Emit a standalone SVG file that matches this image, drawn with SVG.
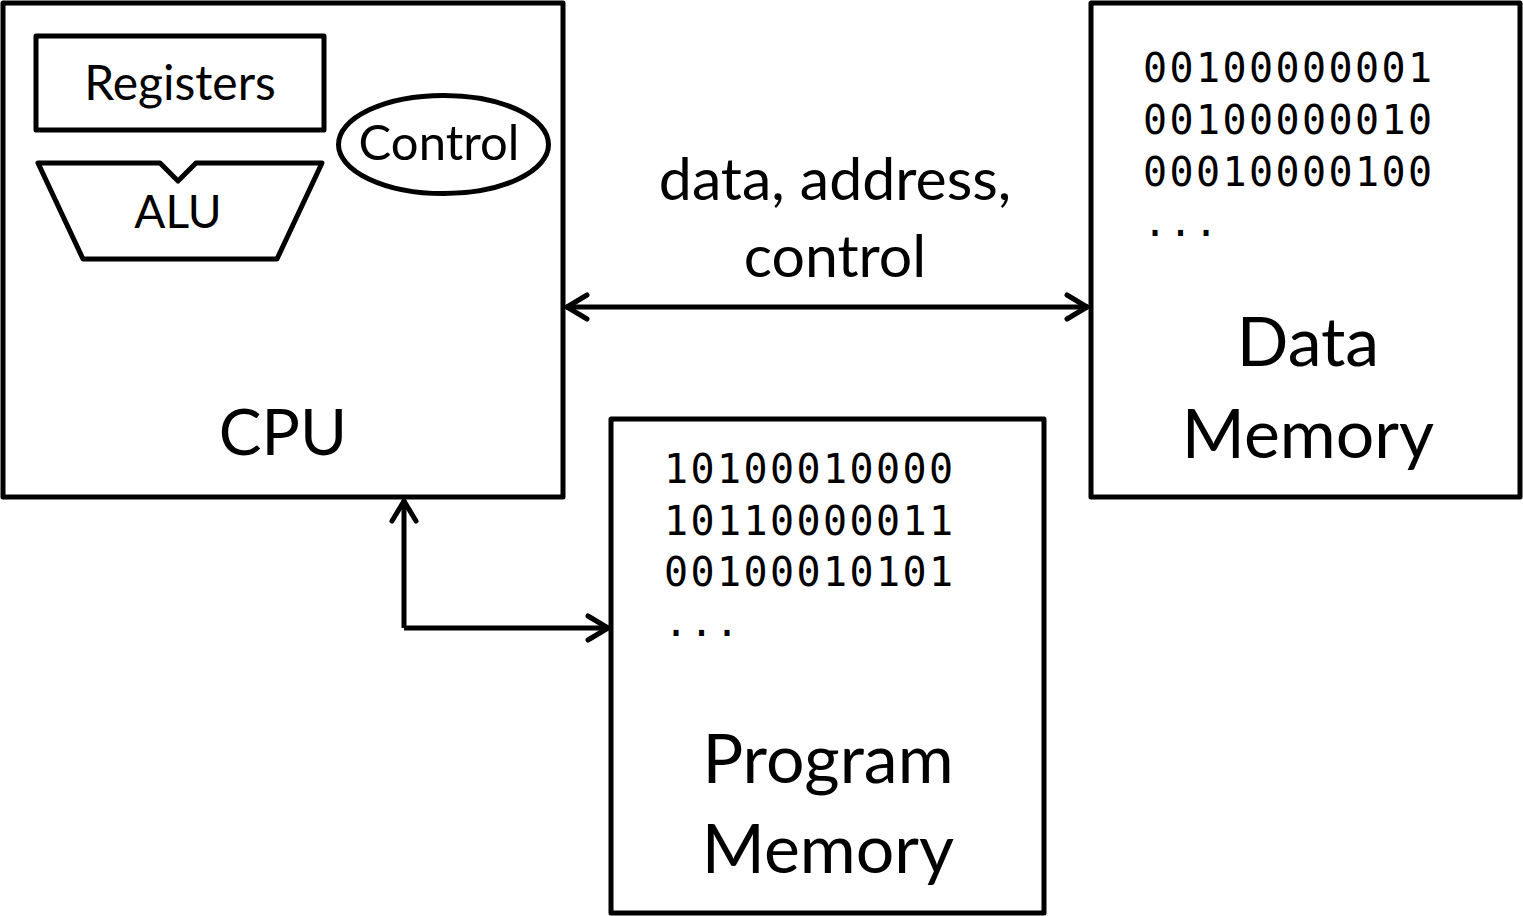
<svg xmlns="http://www.w3.org/2000/svg" width="1523" height="916" viewBox="0 0 1523 916">
<style>
.box{fill:#fff;stroke:#000;stroke-width:5;stroke-linejoin:round}
.sh{fill:none;stroke:#000;stroke-width:5;stroke-linejoin:round}
.t{font-family:Lato,"Liberation Sans",sans-serif;fill:#000;text-anchor:middle}
.m{font-family:"DejaVu Sans Mono","Liberation Mono",monospace;fill:#000;font-size:40px}
.c{fill:none;stroke:#000;stroke-width:5}
</style>
<defs>
<marker id="ah" viewBox="0 0 26 30" refX="24" refY="15" markerWidth="26" markerHeight="30" markerUnits="userSpaceOnUse" orient="auto-start-reverse">
<path d="M3,3 L23,15 L3,27" fill="none" stroke="#000" stroke-width="5" stroke-linecap="round" stroke-linejoin="round"/>
</marker>
</defs>
<g id="cpu">
<rect class="box" x="3" y="3" width="560" height="494"/>
<text class="t" x="283" y="455" font-size="64">CPU</text>
</g>
<g id="registers">
<rect class="sh" x="36" y="36" width="288" height="94"/>
<text class="t" x="180" y="100" font-size="48">Registers</text>
</g>
<g id="alu">
<path class="sh" d="M38,163 L160,163 L178,181 L196,163 L322,163 L277,259 L83,259 Z"/>
<text class="t" x="178" y="228" font-size="46">ALU</text>
</g>
<g id="control">
<ellipse class="sh" cx="443.5" cy="144.5" rx="105" ry="49"/>
<text class="t" x="439" y="160" font-size="49">Control</text>
</g>
<g id="data-memory">
<rect class="box" x="1091" y="3" width="429" height="494"/>
<text class="m" x="1143" y="82" textLength="289">00100000001</text>
<text class="m" x="1143" y="134" textLength="289">00100000010</text>
<text class="m" x="1143" y="186" textLength="289">00010000100</text>
<text class="m" x="1143" y="236" textLength="75">...</text>
<text class="t" x="1308" y="366" font-size="68">Data</text>
<text class="t" x="1308" y="458" font-size="68">Memory</text>
</g>
<g id="program-memory">
<rect class="box" x="611" y="419" width="433" height="494"/>
<text class="m" x="664" y="483" textLength="289">10100010000</text>
<text class="m" x="664" y="535" textLength="289">10110000011</text>
<text class="m" x="664" y="586" textLength="289">00100010101</text>
<text class="m" x="664" y="636" textLength="75">...</text>
<text class="t" x="828" y="783" font-size="68">Program</text>
<text class="t" x="828" y="873" font-size="68">Memory</text>
</g>
<g id="bus-label">
<text class="t" x="835" y="200" font-size="59">data, address,</text>
<text class="t" x="835" y="277" font-size="59">control</text>
</g>
<g id="connectors">
<line class="c" x1="566" y1="307" x2="1088" y2="307" marker-start="url(#ah)" marker-end="url(#ah)"/>
<path class="c" d="M404,628 L404,500" marker-end="url(#ah)"/>
<path class="c" d="M404,628 L609,628" marker-end="url(#ah)"/>
</g>
</svg>
